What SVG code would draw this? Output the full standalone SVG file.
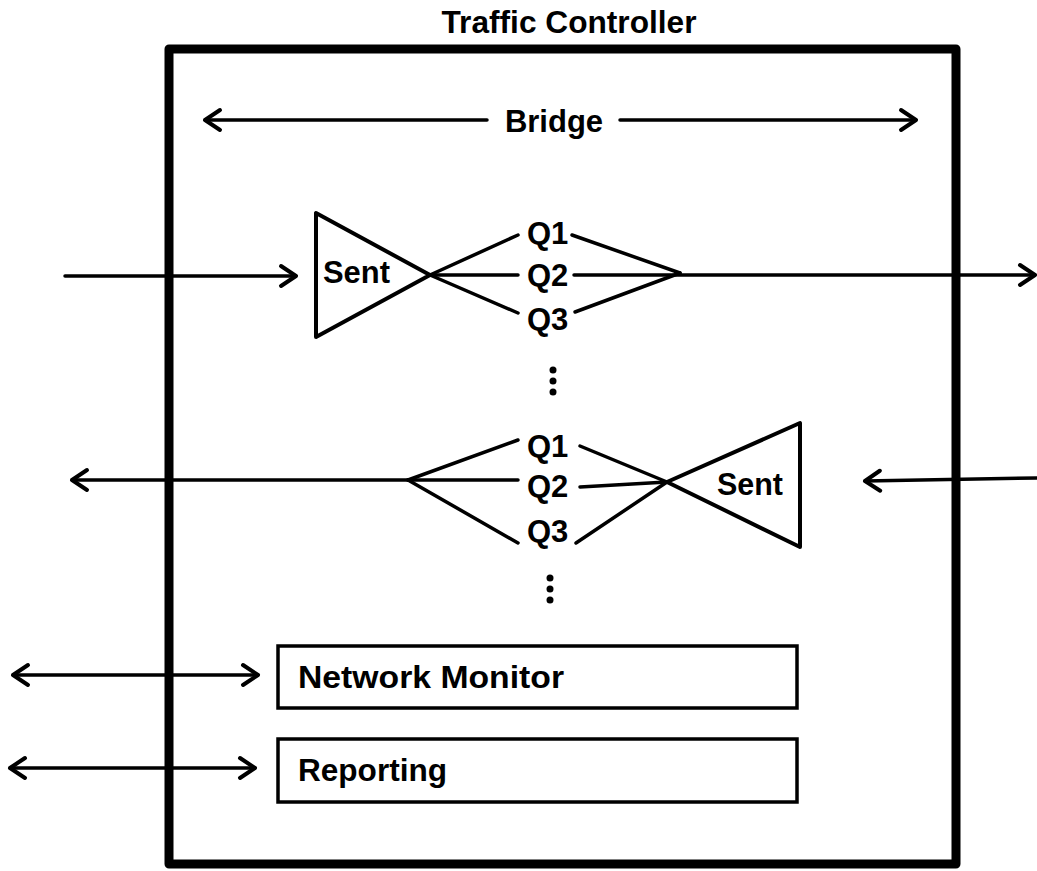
<svg xmlns="http://www.w3.org/2000/svg" width="1037" height="871" viewBox="0 0 1037 871">
<style>
.t{font-family:"Liberation Sans",Arial,sans-serif;font-weight:bold;font-size:31px;fill:#000}
.big{font-size:32px}
.ln{stroke:#000;stroke-width:3.5;fill:none;stroke-linecap:round}
.ar{marker-end:url(#arr)}
.ar2{marker-start:url(#arr);marker-end:url(#arr)}
.shape{stroke:#000;stroke-width:4;fill:#fff;stroke-linejoin:round}
</style>
<defs>
<marker id="arr" markerUnits="userSpaceOnUse" viewBox="-20 -13 24 26" refX="0" refY="0" markerWidth="24" markerHeight="26" orient="auto-start-reverse">
<path d="M-15,-10 L0,0 L-15,10" fill="none" stroke="#000" stroke-width="4" stroke-linecap="round" stroke-linejoin="round"/>
</marker>
</defs>
<rect width="1037" height="871" fill="#fff"/>
<g id="title"><text class="t big" x="569" y="33" text-anchor="middle" textLength="255" lengthAdjust="spacingAndGlyphs">Traffic Controller</text></g>
<g id="controller"><rect x="169" y="49" width="787" height="815" fill="none" stroke="#000" stroke-width="9" stroke-linejoin="round"/></g>
<g id="bridge"><text class="t" x="554" y="132" text-anchor="middle">Bridge</text></g>
<g id="sent-top"><polygon class="shape" points="316,213 316,337 430,275"/><text class="t" x="323" y="283" textLength="67" lengthAdjust="spacingAndGlyphs">Sent</text></g>
<g id="queues-top">
<text class="t" x="527" y="244">Q1</text>
<text class="t" x="527" y="286">Q2</text>
<text class="t" x="527" y="330">Q3</text>
</g>
<g id="dots-top"><circle cx="553" cy="370" r="3.5"/><circle cx="553" cy="381" r="3.5"/><circle cx="553" cy="392" r="3.5"/></g>
<g id="queues-bottom">
<text class="t" x="527" y="457">Q1</text>
<text class="t" x="527" y="497">Q2</text>
<text class="t" x="527" y="542">Q3</text>
</g>
<g id="sent-bottom"><polygon class="shape" points="667,482 800,423 800,547"/><text class="t" x="717" y="495" textLength="66" lengthAdjust="spacingAndGlyphs">Sent</text></g>
<g id="dots-bottom"><circle cx="550" cy="578" r="3.5"/><circle cx="550" cy="589" r="3.5"/><circle cx="550" cy="600" r="3.5"/></g>
<g id="network-monitor"><rect x="278" y="646" width="519" height="62" fill="#fff" stroke="#000" stroke-width="3.5"/><text class="t big" x="298" y="688" textLength="266" lengthAdjust="spacingAndGlyphs">Network Monitor</text></g>
<g id="reporting"><rect x="278" y="739" width="519" height="63" fill="#fff" stroke="#000" stroke-width="3.5"/><text class="t big" x="298" y="781" textLength="149" lengthAdjust="spacingAndGlyphs">Reporting</text></g>
<g id="connectors">
<line class="ln ar" x1="487" y1="120" x2="205" y2="120"/>
<line class="ln ar" x1="620" y1="120" x2="916" y2="120"/>
<line class="ln ar" x1="65" y1="276" x2="296" y2="276"/>
<line class="ln" x1="430" y1="275" x2="518" y2="235"/>
<line class="ln" x1="430" y1="275" x2="518" y2="275"/>
<line class="ln" x1="430" y1="275" x2="518" y2="313"/>
<line class="ln" x1="572" y1="235" x2="680" y2="273"/>
<line class="ln" x1="575" y1="312" x2="680" y2="273"/>
<line class="ln ar" x1="574" y1="275" x2="1035" y2="275"/>
<line class="ln ar" x1="410" y1="480" x2="72" y2="480"/>
<line class="ln" x1="408" y1="480" x2="518" y2="440"/>
<line class="ln" x1="408" y1="480" x2="518" y2="480"/>
<line class="ln" x1="408" y1="480" x2="518" y2="543"/>
<line class="ln" x1="580" y1="446" x2="667" y2="482"/>
<line class="ln" x1="580" y1="487" x2="667" y2="482"/>
<line class="ln" x1="576" y1="543" x2="667" y2="482"/>
<line class="ln ar" x1="1037" y1="478" x2="865" y2="481"/>
<line class="ln ar2" x1="13" y1="675" x2="258" y2="675"/>
<line class="ln ar2" x1="10" y1="768" x2="255" y2="768"/>
</g>
</svg>
